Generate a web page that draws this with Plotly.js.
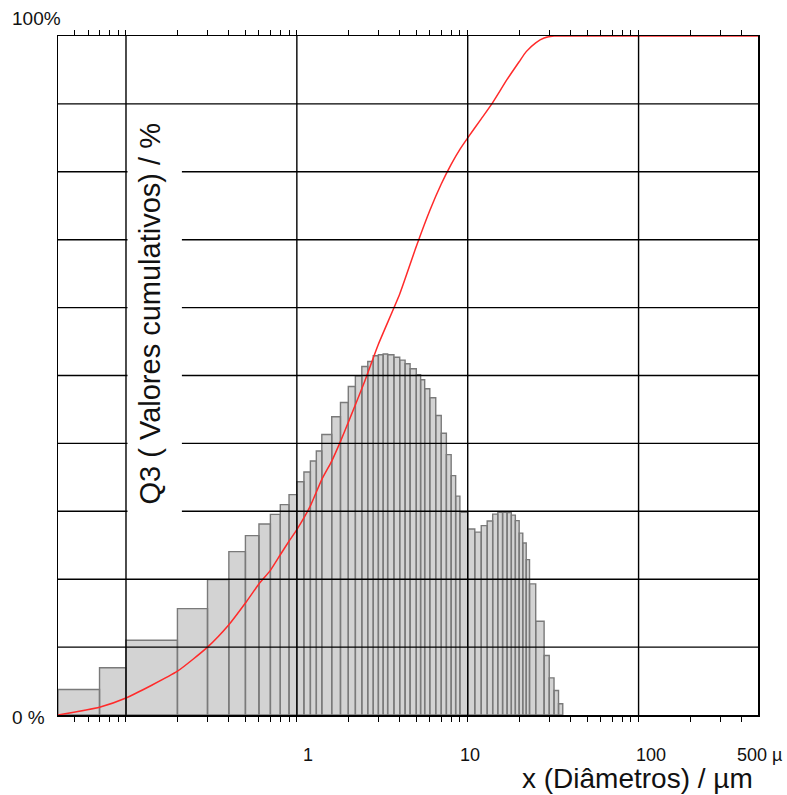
<!DOCTYPE html>
<html>
<head>
<meta charset="utf-8">
<script src="https://cdn.plot.ly/plotly-3.0.1.min.js"></script>
<style>html,body{margin:0;padding:0;background:#fff;}#chart{width:787px;height:795px;}</style>
</head>
<body>
<div id="chart"></div>
<script>
// Histogram class edges (µm) and bar heights (same 0-100 scale as the plot)
const binEdges = [0.04, 0.07, 0.1, 0.2, 0.3, 0.4, 0.5, 0.6, 0.7, 0.8, 0.9, 1.0, 1.1, 1.2, 1.3, 1.4, 1.6, 1.8, 2.0, 2.2, 2.4, 2.6, 2.8, 3.0, 3.2, 3.4, 3.7, 4.0, 4.3, 4.6, 5.0, 5.3, 5.6, 6.0, 6.5, 7.0, 7.5, 8.0, 8.5, 9.0, 10, 11, 12, 13, 14, 15, 16, 17, 18, 19, 20, 21, 22, 23, 25, 28, 30, 32, 34, 36];
const binHeights = [3.75, 6.95, 11.0, 15.67, 19.94, 24.06, 26.42, 28.14, 29.55, 30.98,
  32.45, 34.36, 35.79, 37.41, 38.88, 41.31, 43.93, 46.02, 48.39, 49.96,
  51.33, 52.07, 52.91, 53.05, 53.17, 53.05, 52.69, 52.27, 51.73, 50.99,
  50.11, 49.37, 48.05, 46.73, 44.12, 41.5, 38.34, 35.25, 32.23, 29.87,
  27.4, 26.93, 27.89, 28.58, 29.58, 29.87, 29.87, 29.8, 29.43, 28.62,
  26.78, 25.34, 22.88, 19.31, 13.8, 8.76, 5.47, 3.61, 1.66];
// Cumulative Q3 curve
const cumX = [0.04, 0.07, 0.1, 0.2, 0.3, 0.4, 0.5, 0.6, 0.7, 0.8, 0.9, 1.0, 1.2, 1.4, 1.6, 1.8, 2.0, 2.5, 3.0, 4.0, 5.0, 6.0, 7.0, 8.0, 9.0, 10, 12, 14, 17, 20, 22, 25, 28, 32, 36, 500];
const cumY = [0, 1.15, 2.5, 6.45, 10.0, 13.3, 16.5, 19.3, 21.3, 23.6, 25.6, 27.3, 30.8, 34.7, 37.4, 40.3, 43.1, 49.2, 54.6, 62, 69, 74.3, 78.2, 81.1, 83.3, 85, 87.8, 90.2, 93.6, 96.2, 97.7, 99.0, 99.7, 100, 100, 100];
// Axis labels
const xTickVals = [1, 10, 100, 500];
const xTickText = ["1", "10", "100", "500 µ"];
const xGridVals = [0.1, 1, 10, 100];
const yGridVals = [10, 20, 30, 40, 50, 60, 70, 80, 90];
const yTopLabel = "100%";
const yBottomLabel = "0 %";
const yTitle = "Q3 ( Valores cumulativos) / %";
const xTitle = "x (Diâmetros) / µm";

const xMin = 0.04, xMax = 500;
const lx0 = Math.log10(xMin), lx1 = Math.log10(xMax);

// bar polygons
const bx = [], by = [];
for (let i = 0; i < binHeights.length; i++) {
  const a = binEdges[i], b = binEdges[i + 1], h = binHeights[i];
  bx.push(a, a, b, b, a, null);
  by.push(0, h, h, 0, 0, null);
}

const minorVals = [];
for (let d = -2; d <= 2; d++) {
  for (let k = 2; k <= 9; k++) {
    const v = k * Math.pow(10, d);
    if (v > xMin * 1.0001 && v < xMax * 0.9999) minorVals.push(v);
  }
}

const font = "Arial, 'Liberation Sans', sans-serif";

const traces = [
  {
    x: bx, y: by, type: 'scatter', mode: 'lines', fill: 'toself',
    fillcolor: '#d3d3d3', line: {color: '#7a7a7a', width: 1.4},
    hoverinfo: 'skip', showlegend: false, connectgaps: false
  },
  {
    x: cumX, y: cumY, type: 'scatter', mode: 'lines',
    line: {color: '#ff2a2a', width: 1.5, shape: 'spline', smoothing: 0.5},
    showlegend: false
  }
];

const shapes = [];
yGridVals.forEach(v => shapes.push({type: 'line', layer: 'above', xref: 'paper', yref: 'y', x0: 0, x1: 1, y0: v, y1: v, line: {color: '#000', width: 1.4}}));
xGridVals.forEach(v => {
  const p = (Math.log10(v) - lx0) / (lx1 - lx0);
  shapes.push({type: 'line', layer: 'above', xref: 'paper', yref: 'paper', x0: p, x1: p, y0: 0, y1: 1, line: {color: '#000', width: 1.4}});
});
// white box behind the vertical y title
shapes.push({type: 'rect', layer: 'above', xref: 'paper', yref: 'paper', x0: 0.0993, x1: 0.177, y0: 0.284, y1: 0.897, fillcolor: '#fff', line: {width: 0}});

const xShifts = [11, 2, 12, -23];
const annotations = [];
xTickVals.forEach((v, i) => {
  annotations.push({
    x: Math.log10(v), xref: 'x', y: -0.059, yref: 'paper',
    text: xTickText[i], showarrow: false, xshift: xShifts[i],
    xanchor: i === 3 ? 'left' : 'center', yanchor: 'middle',
    font: {family: font, size: 18, color: '#111'}
  });
});
annotations.push({x: -0.0686, xref: 'paper', y: 1.0265, yref: 'paper', text: yTopLabel, showarrow: false, xanchor: 'left', yanchor: 'middle', font: {family: font, size: 19, color: '#111'}});
annotations.push({x: -0.0686, xref: 'paper', y: -0.003, yref: 'paper', text: yBottomLabel, showarrow: false, xanchor: 'left', yanchor: 'middle', font: {family: font, size: 19, color: '#111'}});
annotations.push({x: 0.1314, xref: 'paper', y: 0.5913, yref: 'paper', text: yTitle, textangle: -90, showarrow: false, xanchor: 'center', yanchor: 'middle', font: {family: font, size: 29, color: '#111'}});
annotations.push({x: 0.9957, xref: 'paper', y: -0.0935, yref: 'paper', text: xTitle, showarrow: false, xanchor: 'right', yanchor: 'middle', font: {family: font, size: 28, color: '#111'}});

const layout = {
  width: 787, height: 795,
  margin: {l: 58, r: 29, t: 36, b: 80},
  paper_bgcolor: '#fff', plot_bgcolor: '#fff',
  showlegend: false,
  xaxis: {
    type: 'log', range: [lx0, lx1], showgrid: false, zeroline: false,
    showline: true, linecolor: '#000', linewidth: 1.5, mirror: 'allticks',
    ticks: 'outside', ticklen: 5, tickwidth: 1, tickcolor: '#000',
    tickmode: 'array', tickvals: xGridVals, showticklabels: false,
    minor: {ticks: 'outside', ticklen: 5, tickwidth: 1, tickcolor: '#000', tickmode: 'array', tickvals: minorVals, showgrid: false},
    layer: 'below traces'
  },
  yaxis: {
    range: [0, 100], showgrid: false, zeroline: false,
    showline: true, linecolor: '#000', linewidth: 1.5, mirror: true,
    ticks: '', showticklabels: false, layer: 'below traces'
  },
  shapes: shapes,
  annotations: annotations
};

Plotly.newPlot('chart', traces, layout, {staticPlot: true, displayModeBar: false});
</script>
</body>
</html>
